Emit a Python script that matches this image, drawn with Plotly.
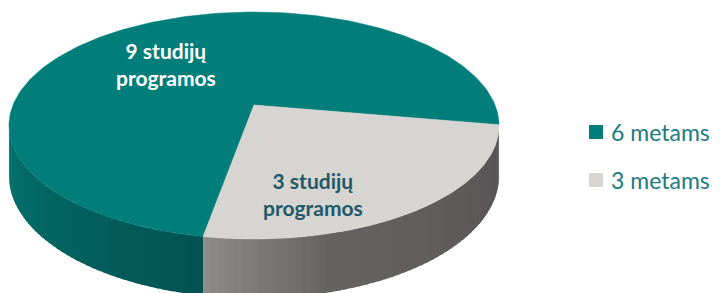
import numpy as np
import plotly.graph_objects as go

# ---- data ----
legend_labels = ["6 metams", "3 metams"]
values = [9, 3]
slice_labels = ["9 studijų<br>programos", "3 studijų<br>programos"]

# ---- style ----
top_colors = ["#017E7A", "#D6D5D1"]
label_colors = ["#FFFFFF", "#215968"]
label_pos = [(166, 64), (313, 194)]
legend_text_color = "#1B7B7F"
START_DEG = 100.0           # angle where first slice starts (clockwise on screen)
CX, CY = 254.0, 105.0       # projected centre of the pie
A, H, K, D = 241.0, 109.8, 0.1807, 48.5   # half width, half depth, perspective, thickness


def hex2rgb(h):
    h = h.lstrip("#")
    return np.array([int(h[i:i + 2], 16) for i in (0, 2, 4)], dtype=float)


def side_color(idx, t):
    if idx == 0:
        stops = [(100, "#015251"), (130, "#02615F"), (170, "#057571")]
    else:
        stops = [(10, "#555353"), (75, "#656362"), (100, "#8D8C8A")]
    ts = [s[0] for s in stops]
    cols = np.array([hex2rgb(s[1]) for s in stops])
    c = [np.interp(t, ts, cols[:, j]) for j in range(3)]
    return "rgb(%d,%d,%d)" % tuple(int(round(v)) for v in c)


def proj(t_deg, r=1.0, depth=0.0):
    t = np.radians(t_deg)
    x = r * np.cos(t)
    z = r * np.sin(t)
    s = 1.0 / (1.0 - K * z)
    return CX + A * x * s, CY + H * z * s + depth * s


fig = go.Figure()

total = float(sum(values))
angles = []
a0 = START_DEG
for v in values:
    a1 = a0 + 360.0 * v / total
    angles.append((a0, a1))
    a0 = a1

vis_lo = np.degrees(np.arcsin(K))
vis_hi = 180.0 - vis_lo

# sides (front visible part), overlapping strips to hide seams
for i, (t0, t1) in enumerate(angles):
    for shift in (-360.0, 0.0, 360.0):
        lo = max(t0 + shift, vis_lo)
        hi = min(t1 + shift, vis_hi)
        if hi <= lo:
            continue
        n = max(2, int((hi - lo) / 1.5))
        edges = np.linspace(lo, hi, n + 1)
        for ta, tb in zip(edges[:-1], edges[1:]):
            te = min(tb + 1.0, hi)
            seg = np.linspace(ta, te, 6)
            xt, yt = proj(seg)
            xbm, ybm = proj(seg[::-1], depth=D)
            xs = np.concatenate([xt, xbm, xt[:1]])
            ys = np.concatenate([yt, ybm, yt[:1]])
            col = side_color(i, (ta + tb) / 2)
            fig.add_trace(go.Scatter(
                x=xs, y=ys, mode="lines", fill="toself", fillcolor=col,
                line=dict(color=col, width=0),
                hoverinfo="skip", showlegend=False))

# top faces
for i, (t0, t1) in enumerate(angles):
    ts = np.linspace(t0, t1, 200)
    xs, ys = proj(ts)
    xs = np.concatenate([[CX], xs, [CX]])
    ys = np.concatenate([[CY], ys, [CY]])
    fig.add_trace(go.Scatter(
        x=xs, y=ys, mode="lines", fill="toself", fillcolor=top_colors[i],
        line=dict(color=top_colors[i], width=0.5),
        name=legend_labels[i], hoverinfo="skip", showlegend=False))

# slice labels
for i, txt in enumerate(slice_labels):
    fig.add_annotation(x=label_pos[i][0], y=label_pos[i][1], text="<b>" + txt + "</b>",
                       showarrow=False, xanchor="center", yanchor="middle",
                       font=dict(family="Lato", size=21, color=label_colors[i]))

# legend
leg_y = [132, 180]
for i, lab in enumerate(legend_labels):
    fig.add_trace(go.Scatter(x=[596], y=[leg_y[i]], mode="markers",
                             marker=dict(symbol="square", size=14, color=top_colors[i]),
                             hoverinfo="skip", showlegend=False))
    fig.add_annotation(x=609, y=leg_y[i], text=lab, showarrow=False,
                       xanchor="left", yanchor="middle",
                       font=dict(family="Lato", size=23, color=legend_text_color))

fig.update_layout(
    width=720, height=293,
    margin=dict(l=0, r=0, t=0, b=0),
    paper_bgcolor="white", plot_bgcolor="white",
    xaxis=dict(range=[0, 720], visible=False, fixedrange=True),
    yaxis=dict(range=[293, 0], visible=False, fixedrange=True),
)

fig.write_html("out.html", config={"displayModeBar": False},
               post_script="document.body.style.margin='0';document.body.style.overflow='hidden';")
